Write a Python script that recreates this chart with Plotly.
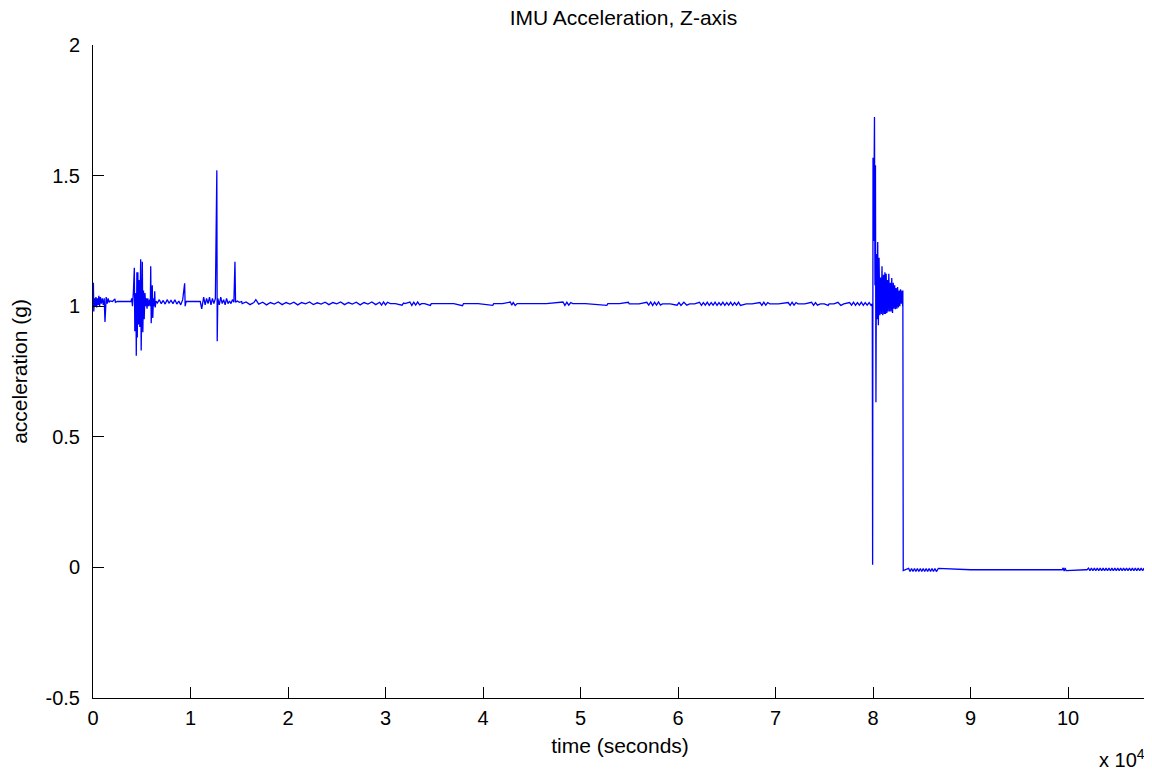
import plotly.graph_objects as go

# ---- data (time in seconds, acceleration in g) ----
startup_time = [0, 40, 80, 150, 220, 300, 380, 450, 530, 600, 680, 760, 850, 950, 1050,
                1150, 1230, 1280, 1350, 1450, 1550, 1650, 1750, 2000, 2250, 2300, 2500,
                3000, 3500, 3900]
startup_accel = [1.00, 1.09, 0.98, 1.03, 1.00, 1.035, 0.995, 1.03, 1.005, 1.04, 1.00, 1.035,
                 1.01, 1.03, 1.005, 1.03, 0.94, 1.02, 1.035, 1.01, 1.03, 1.015, 1.02, 1.018,
                 1.028, 1.015, 1.018, 1.018, 1.018, 1.018]

burst_time = [3970, 4050, 4150, 4240, 4290, 4400, 4440, 4500, 4540, 4600, 4660, 4720, 4800,
              4890, 4940, 5000, 5060, 5110, 5180, 5250, 5330, 5400, 5470, 5540, 5620, 5700,
              5800, 5880, 5920, 5970, 6030, 6080, 6130, 6200, 6280, 6330, 6380, 6460]
burst_accel = [1.03, 1.00, 1.06, 1.147, 0.904, 1.05, 0.81, 1.13, 0.88, 1.13, 0.93, 1.10, 0.92,
               1.18, 0.83, 1.10, 1.17, 0.90, 1.06, 0.95, 1.05, 1.00, 1.03, 0.99, 1.03, 1.00,
               1.025, 1.00, 1.153, 0.935, 1.04, 1.08, 0.955, 1.03, 1.00, 1.057, 0.995, 1.02]

early_time = [6600, 6800, 7000, 7200, 7400, 7600, 7800, 8000, 8200, 8400, 8600, 8800, 9000,
              9200, 9400, 9450, 9550, 10000, 10500, 11000, 11150, 11250, 11350, 11500, 11650,
              11800, 11950, 12100, 12250, 12400, 12550, 12700, 12740, 12800, 12950, 13100,
              13250, 13400, 13550, 13700, 13850, 14000, 14150, 14300, 14450, 14560, 14620,
              14800, 15000, 15250]
early_accel = [1.012, 1.025, 1.01, 1.022, 1.008, 1.025, 1.012, 1.022, 1.01, 1.025, 1.008, 1.02,
               1.005, 1.025, 1.088, 1.00, 1.018, 1.018, 1.018, 1.018, 0.99, 1.02, 1.035, 1.005,
               1.03, 1.01, 1.035, 1.005, 1.03, 1.01, 1.03, 1.52, 0.866, 1.03, 1.005, 1.035,
               1.01, 1.025, 1.005, 1.03, 1.01, 1.02, 1.01, 1.025, 1.015, 1.17, 1.015, 1.02,
               1.015, 1.018]

cruise_time = [15300, 15700, 16100, 16500, 16700, 17000, 17400, 17800, 18200, 18600, 19000,
               19400, 19800, 20200, 20600, 21000, 21400, 21800, 22200, 22600, 23000, 23400,
               23800, 24200, 24600, 25000, 25400, 25800, 26200, 26600, 27000, 27400, 27800,
               28200, 28600, 29000, 29400, 29600, 29800, 30000, 30200, 30500, 31000, 31700,
               31850, 32000, 32500, 32700, 32900, 33100, 33300, 33500, 33700, 34000, 34600,
               34700, 35500, 37000, 37900, 38000, 39500, 41000, 41100, 42000, 42800, 42950,
               43100, 43300, 43500, 45000, 46500, 48200, 48400, 48600, 48800, 49000, 49200,
               50500, 52700, 52800, 54000, 54900, 55000, 56000, 56800, 57000, 57200, 57400,
               57600, 57800, 58000, 58200, 58400, 59200, 59900, 60100, 60300, 60600, 60900,
               61200, 61700, 62200, 62400, 62600, 62800, 63000, 63200, 63400, 63600, 63800,
               64000, 64200, 64400, 64600, 64800, 65000, 65200, 65400, 65600, 65800, 66000,
               66200, 66400, 67000, 67600, 68400, 68600, 68800, 69000, 69200, 69400, 70300,
               71300, 71500, 71700, 71900, 72100, 72300, 73000, 73700, 73900, 74100, 74300,
               74600, 75000, 75400, 75500, 76000, 76400, 76700, 77000, 77600, 77800, 78000,
               78200, 78400, 78600, 78800, 79000, 79200, 79400, 79600, 79800]
cruise_accel = [1.010, 1.016, 1.006, 1.014, 1.025, 1.008, 1.015, 1.005, 1.014, 1.008, 1.016,
                1.006, 1.014, 1.008, 1.015, 1.005, 1.014, 1.009, 1.016, 1.006, 1.013, 1.008,
                1.015, 1.006, 1.014, 1.009, 1.016, 1.006, 1.014, 1.008, 1.015, 1.005, 1.014,
                1.008, 1.016, 1.006, 1.015, 1.004, 1.016, 1.005, 1.015, 1.010, 1.010, 1.004,
                1.012, 1.010, 1.016, 1.003, 1.015, 1.004, 1.016, 1.005, 1.010, 1.010, 1.003,
                1.010, 1.010, 1.010, 1.002, 1.010, 1.010, 1.003, 1.010, 1.010, 1.016, 1.004,
                1.014, 1.003, 1.010, 1.010, 1.010, 1.016, 1.003, 1.015, 1.004, 1.014, 1.010,
                1.010, 1.003, 1.010, 1.010, 1.015, 1.009, 1.009, 1.015, 1.004, 1.016, 1.003,
                1.015, 1.004, 1.016, 1.004, 1.009, 1.009, 1.004, 1.014, 1.003, 1.015, 1.004,
                1.009, 1.009, 1.015, 1.003, 1.014, 1.004, 1.015, 1.003, 1.014, 1.004, 1.015,
                1.003, 1.014, 1.004, 1.015, 1.003, 1.014, 1.004, 1.015, 1.003, 1.014, 1.004,
                1.015, 1.003, 1.009, 1.009, 1.014, 1.003, 1.015, 1.004, 1.014, 1.009, 1.009,
                1.014, 1.003, 1.015, 1.004, 1.014, 1.009, 1.009, 1.015, 1.003, 1.014, 1.004,
                1.009, 1.009, 1.003, 1.009, 1.009, 1.015, 1.003, 1.009, 1.014, 1.004, 1.015,
                1.003, 1.014, 1.004, 1.015, 1.003, 1.014, 1.004, 1.014, 1.003, 1.008]

impact_time = [79900, 79925, 79960, 80000, 80050, 80100, 80150, 80200, 80250, 80300, 80350,
               80420, 80480, 80550, 80620, 80700, 80780, 80850, 80920, 81000, 81080, 81150,
               81220, 81280, 81350, 81420, 81500, 81550, 81620, 81700, 81780, 81850, 81920,
               82000, 82080, 82150, 82220, 82300, 82370, 82450, 82520, 82600, 82680, 82750,
               82820, 82900, 82980, 83040, 83060]
impact_accel = [1.008, 0.01, 1.568, 1.25, 1.45, 1.724, 1.08, 1.54, 0.632, 1.20, 0.95, 1.246,
                0.927, 1.185, 0.965, 1.11, 0.97, 1.153, 0.965, 1.12, 0.97, 1.13, 0.97, 1.124,
                0.974, 1.10, 0.98, 1.124, 0.98, 1.09, 0.98, 1.108, 0.974, 1.09, 0.99, 1.08,
                0.988, 1.07, 0.99, 1.073, 0.995, 1.06, 1.00, 1.065, 1.01, 1.06, 1.00, 1.06,
                -0.012]

rest_time = [83100, 83300, 83500, 83650, 83800, 83950, 84100, 84250, 84400, 84550, 84700,
             84850, 85000, 85150, 85300, 85450, 85600, 85750, 85900, 86050, 86200, 86350,
             86500, 86700, 90000, 95000, 99300, 99400, 99500, 99600, 99700, 99800, 101800,
             101950, 102100, 102250, 102400, 102550, 102700, 102850, 103000, 103150, 103300,
             103450, 103600, 103750, 103900, 104050, 104200, 104350, 104500, 104650, 104800,
             104950, 105100, 105250, 105400, 105550, 105700, 105850, 106000, 106150, 106300,
             106450, 106600, 106750, 106900, 107050, 107200, 107350, 107500, 107650, 107800,
             107900]
rest_accel = [-0.009, -0.009, -0.004, -0.016, -0.004, -0.016, -0.004, -0.016, -0.004, -0.016,
              -0.004, -0.016, -0.004, -0.016, -0.004, -0.016, -0.004, -0.016, -0.004, -0.016,
              -0.004, -0.016, -0.004, -0.009, -0.009, -0.009, -0.009, -0.002, -0.014, -0.002,
              -0.012, -0.009, -0.009, -0.003, -0.013, -0.003, -0.013, -0.003, -0.013, -0.003,
              -0.013, -0.003, -0.013, -0.003, -0.013, -0.003, -0.013, -0.003, -0.013, -0.003,
              -0.013, -0.003, -0.013, -0.003, -0.013, -0.003, -0.013, -0.003, -0.013, -0.003,
              -0.013, -0.003, -0.013, -0.003, -0.013, -0.003, -0.013, -0.003, -0.013, -0.003,
              -0.013, -0.003, -0.013, -0.008]

x_tick_vals = [0, 10000, 20000, 30000, 40000, 50000, 60000, 70000, 80000, 90000, 100000]
x_tick_text = ["0", "1", "2", "3", "4", "5", "6", "7", "8", "9", "10"]
y_tick_vals = [-0.5, 0, 0.5, 1, 1.5, 2]
y_tick_text = ["-0.5", "0", "0.5", "1", "1.5", "2"]

time_s = startup_time + burst_time + early_time + cruise_time + impact_time + rest_time
accel_g = startup_accel + burst_accel + early_accel + cruise_accel + impact_accel + rest_accel

FONT = "Liberation Sans, Arial, Helvetica, sans-serif"
FS_TICK = 20
FS_TEXT = 21

fig = go.Figure()
fig.add_trace(go.Scatter(x=time_s, y=accel_g, mode="lines",
                         line=dict(color="#0000FF", width=1.3), showlegend=False,
                         hoverinfo="x+y"))

# the page body has an 8px margin, so the figure is 8px smaller and margins shifted
fig.update_layout(
    width=1144, height=760,
    margin=dict(l=85, r=5, t=37, b=70, autoexpand=False),
    paper_bgcolor="white", plot_bgcolor="white",
    font=dict(family=FONT, size=FS_TICK, color="black"),
    title=dict(text="IMU Acceleration, Z-axis", x=0.538, xanchor="center",
               y=0.987, yanchor="middle", font=dict(family=FONT, size=FS_TEXT, color="black")),
    xaxis=dict(range=[0, 108100], tickmode="array", tickvals=x_tick_vals,
               ticktext=x_tick_text, ticks="inside", ticklen=11, tickcolor="black",
               showline=True, linecolor="black", linewidth=1, showgrid=False,
               zeroline=False, mirror=False, automargin=False, ticklabelstandoff=2,
               title=dict(text="time (seconds)", font=dict(family=FONT, size=FS_TEXT), standoff=10),
               tickfont=dict(family=FONT, size=FS_TICK)),
    yaxis=dict(range=[-0.5, 2], tickmode="array", tickvals=y_tick_vals,
               ticktext=y_tick_text, ticks="inside", ticklen=11, tickcolor="black",
               showline=True, linecolor="black", linewidth=1, showgrid=False,
               zeroline=False, mirror=False, automargin=False, ticklabelstandoff=8,
               title=dict(text="acceleration (g)", font=dict(family=FONT, size=FS_TEXT), standoff=14),
               tickfont=dict(family=FONT, size=FS_TICK)),
)

fig.add_annotation(text="x 10<sup>4</sup>", xref="paper", yref="paper", x=1.0, y=-0.092,
                   xanchor="right", yanchor="middle", showarrow=False,
                   font=dict(family=FONT, size=FS_TICK, color="black"))

fig.write_html("out.html")
